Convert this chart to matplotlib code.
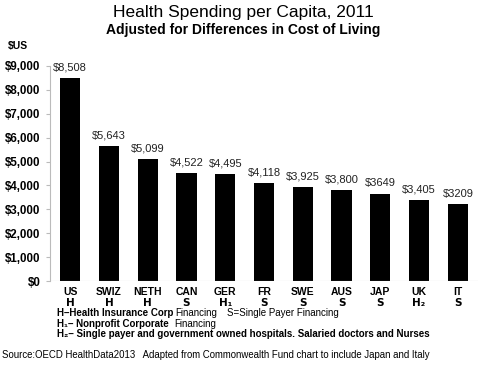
import matplotlib.pyplot as plt
from matplotlib.transforms import blended_transform_factory

# Data
countries = ['US', 'SWIZ', 'NETH', 'CAN', 'GER', 'FR', 'SWE', 'AUS', 'JAP', 'UK', 'IT']
financing = ['H', 'H', 'H', 'S', 'H\u2081', 'S', 'S', 'S', 'S', 'H\u2082', 'S']
spending = [8508, 5643, 5099, 4522, 4495, 4118, 3925, 3800, 3649, 3405, 3209]
value_labels = ['$8,508', '$5,643', '$5,099', '$4,522', '$4,495', '$4,118',
                '$3,925', '$3,800', '$3649', '$3,405', '$3209']
yticks = [0, 1000, 2000, 3000, 4000, 5000, 6000, 7000, 8000, 9000]

plt.rcParams['font.family'] = ['Liberation Sans', 'DejaVu Sans']

fig = plt.figure(figsize=(4.8, 3.68), dpi=100)
ax = fig.add_axes([50 / 480, 1 - 281 / 368, 428 / 480, 215 / 368])

x = list(range(len(countries)))
ax.bar(x, spending, width=0.52, color='black')
ax.set_xlim(-0.52, len(countries) - 0.48)
ax.set_ylim(0, 9000)

for xi, v, lab in zip(x, spending, value_labels):
    ax.text(xi, v + 230, lab, ha='center', va='bottom', fontsize=8,
            color='#222222', clip_on=False)

ax.set_yticks(yticks)
ax.set_yticklabels(['${:,}'.format(t) for t in yticks], fontsize=8.3, fontweight='bold')
ax.set_xticks([])
for s in ['top', 'right', 'bottom']:
    ax.spines[s].set_visible(False)
ax.spines['left'].set_color('#bbbbbb')
ax.tick_params(axis='y', length=3, color='#bbbbbb', pad=4)
ax.axhline(0, color='#bbbbbb', lw=0.8)

# category labels under the bars
tr = blended_transform_factory(ax.transData, fig.transFigure)
for xi, c, f in zip(x, countries, financing):
    ax.text(xi, 1 - 292 / 368, c, transform=tr, ha='center', va='center',
            fontsize=7.5, fontweight='bold')
    ax.text(xi, 1 - 303 / 368, f, transform=tr, ha='center', va='center',
            fontsize=7.5, fontweight='bold', family=['DejaVu Sans'])

# titles
fig.text(0.507, 1 - 13 / 368, 'Health Spending per Capita, 2011', ha='center',
         va='center', fontsize=12.5)
fig.text(0.507, 1 - 30 / 368, 'Adjusted for Differences in Cost of Living',
         ha='center', va='center', fontsize=10, fontweight='bold')
fig.text(8 / 480, 1 - 46 / 368, '$US', ha='left', va='center', fontsize=7.5,
         fontweight='bold')

# financing legend
fs = 7
fig.text(57 / 480, 1 - 313 / 368, 'H\u2013Health Insurance Corp', ha='left',
         va='center', fontsize=fs, fontweight='bold')
fig.text(175 / 480, 1 - 313 / 368, 'Financing', ha='left', va='center',
         fontsize=fs)
fig.text(227 / 480, 1 - 313 / 368, 'S=Single Payer Financing', ha='left',
         va='center', fontsize=fs)
fig.text(57 / 480, 1 - 324 / 368, 'H\u2081\u2013 Nonprofit Corporate', ha='left',
         va='center', fontsize=fs, fontweight='bold')
fig.text(174 / 480, 1 - 324 / 368, 'Financing', ha='left', va='center',
         fontsize=fs)
fig.text(57 / 480, 1 - 334 / 368,
         'H\u2082\u2013 Single payer and government owned hospitals. Salaried doctors and Nurses',
         ha='left', va='center', fontsize=fs, fontweight='bold')

fig.text(2 / 480, 1 - 355 / 368,
         'Source:OECD HealthData2013   Adapted from Commonwealth Fund chart to include Japan and Italy',
         ha='left', va='center', fontsize=6.9)

fig.savefig('out.png', dpi=100)
